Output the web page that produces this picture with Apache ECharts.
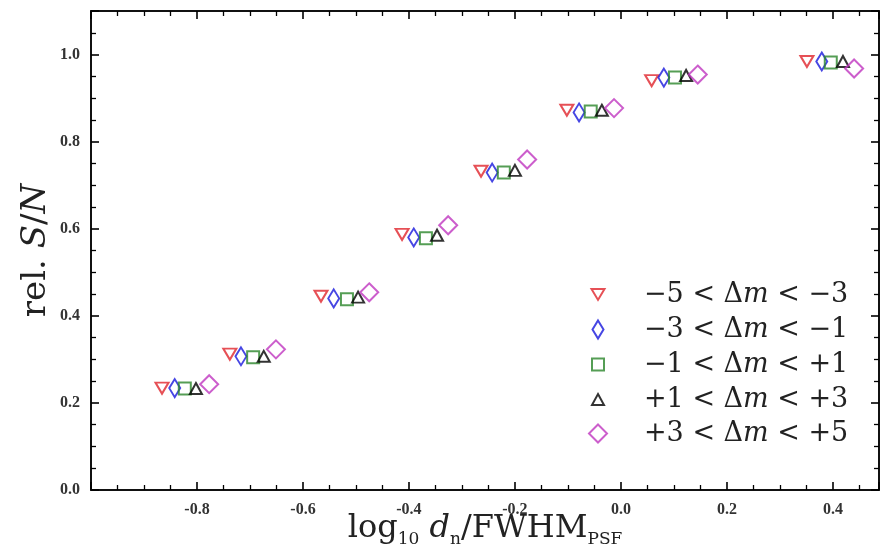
<!DOCTYPE html>
<html><head><meta charset="utf-8">
<script src="https://cdn.jsdelivr.net/npm/echarts@6/dist/echarts.min.js"></script>
<style>html,body{margin:0;padding:0;background:#fff}#c{width:881px;height:557px}</style>
</head><body><div id="c"></div>
<script>
// Data
const seriesNames = ['−5 < Δm < −3', '−3 < Δm < −1', '−1 < Δm < +1', '+1 < Δm < +3', '+3 < Δm < +5'];
const legendLabels = [
  ['−5 < Δ', ' < −3'],
  ['−3 < Δ', ' < −1'],
  ['−1 < Δ', ' < +1'],
  ['+1 < Δ', ' < +3'],
  ['+3 < Δ', ' < +5']
];
const xRedTri   = [-0.866, -0.738, -0.566, -0.413, -0.264, -0.102, 0.058, 0.351];
const yRedTri   = [0.234, 0.312, 0.445, 0.587, 0.732, 0.872, 0.940, 0.984];
const xBlueDia  = [-0.842, -0.717, -0.542, -0.391, -0.243, -0.079, 0.081, 0.379];
const yBlueDia  = [0.234, 0.307, 0.440, 0.580, 0.729, 0.867, 0.947, 0.984];
const xGreenSq  = [-0.823, -0.694, -0.517, -0.368, -0.221, -0.057, 0.102, 0.396];
const yGreenSq  = [0.233, 0.305, 0.438, 0.578, 0.729, 0.869, 0.947, 0.982];
const xBlackTri = [-0.802, -0.674, -0.496, -0.347, -0.200, -0.036, 0.123, 0.419];
const yBlackTri = [0.233, 0.307, 0.443, 0.585, 0.734, 0.872, 0.952, 0.984];
const xMagDia   = [-0.777, -0.651, -0.475, -0.326, -0.177, -0.013, 0.145, 0.440];
const yMagDia   = [0.243, 0.323, 0.454, 0.608, 0.759, 0.877, 0.954, 0.968];
const xTicks = {min: -1.0, max: 0.487, interval: 0.2};
const yTicks = {min: 0, max: 1.1, interval: 0.2};

const xsAll = [xRedTri, xBlueDia, xGreenSq, xBlackTri, xMagDia];
const ysAll = [yRedTri, yBlueDia, yGreenSq, yBlackTri, yMagDia];
const colors = ['#e0242c', '#1818dc', '#2a862a', '#000000', '#bf36bf'];
const symbols = ['path://M0,0L12,0L6,10Z', 'diamond', 'rect', 'triangle', 'diamond'];
const sizes = [[13, 11], [11, 18], [12, 12], [12, 11], [18, 18]];

const serif = 'DejaVu Serif';
const tickFont = 'Liberation Serif';
const series = seriesNames.map((n, i) => ({
  name: n, type: 'scatter',
  data: xsAll[i].map((x, j) => [x, ysAll[i][j]]),
  symbol: symbols[i], symbolSize: sizes[i],
  itemStyle: {color: 'rgba(0,0,0,0)', borderColor: colors[i], borderWidth: 2},
  z: 2 + i
}));

const legendRows = [298, 333, 368, 403, 437];
const legends = seriesNames.map((n, i) => ({
  data: [{name: n}],
  left: 597 - sizes[i][0] / 2,
  top: legendRows[i] - 17,
  padding: 0,
  itemWidth: sizes[i][0], itemHeight: sizes[i][1],
  selectedMode: false,
  formatter: () => '{n|' + legendLabels[i][0] + '}{i|m}{n|' + legendLabels[i][1] + '}',
  textStyle: {
    padding: [0, 0, 0, 41 - sizes[i][0] / 2],
    rich: {
      n: {fontFamily: serif, fontSize: 27, color: '#222', lineHeight: 34},
      i: {fontFamily: serif, fontSize: 27, fontStyle: 'italic', color: '#222', lineHeight: 34}
    }
  }
}));

const tickLabel = {fontFamily: tickFont, fontWeight: 'bold', fontSize: 16, color: '#333'};
const axisLineStyle = {show: true, onZero: false, lineStyle: {color: '#111', width: 2}};
const tickStyle = {show: true, inside: true, length: 8, lineStyle: {color: '#000', width: 1.6}};
const minorStyle = {show: true, splitNumber: 4, length: 5, lineStyle: {color: '#000', width: 1.3}};

const option = {
  animation: false,
  backgroundColor: '#fff',
  grid: {left: 91, top: 11, right: 2, bottom: 67, containLabel: false, outerBoundsMode: 'none'},
  legend: legends,
  xAxis: [{
    type: 'value', min: xTicks.min, max: xTicks.max, interval: xTicks.interval,
    axisLine: axisLineStyle, axisTick: tickStyle, minorTick: minorStyle,
    splitLine: {show: false},
    axisLabel: Object.assign({showMinLabel: false, showMaxLabel: false, margin: 12,
      formatter: v => v.toFixed(1)}, tickLabel),
    name: '{n|log}{s|10}{n| }{i|d}{s|n}{n|/FWHM}{s|PSF}',
    nameLocation: 'middle', nameGap: 20, nameMoveOverlap: false,
    nameTextStyle: {rich: {
      n: {fontFamily: serif, fontSize: 32, color: '#222', lineHeight: 38, verticalAlign: 'middle'},
      i: {fontFamily: serif, fontSize: 32, fontStyle: 'italic', color: '#222', lineHeight: 38, verticalAlign: 'middle'},
      s: {fontFamily: serif, fontSize: 17, color: '#222', lineHeight: 38, verticalAlign: 'bottom'}
    }}
  }, {
    type: 'value', position: 'top', min: xTicks.min, max: xTicks.max, interval: xTicks.interval,
    axisLine: axisLineStyle, axisTick: tickStyle, minorTick: minorStyle,
    splitLine: {show: false}, axisLabel: {show: false}
  }],
  yAxis: [{
    type: 'value', min: yTicks.min, max: yTicks.max, interval: yTicks.interval,
    axisLine: axisLineStyle, axisTick: tickStyle, minorTick: minorStyle,
    splitLine: {show: false},
    axisLabel: Object.assign({showMaxLabel: false, margin: 11,
      formatter: v => v.toFixed(1)}, tickLabel),
    name: '{n|rel. }{i|S}{n|/}{i|N}',
    nameLocation: 'middle', nameGap: 38, nameMoveOverlap: false,
    nameTextStyle: {rich: {
      n: {fontFamily: serif, fontSize: 34, color: '#222'},
      i: {fontFamily: serif, fontSize: 34, fontStyle: 'italic', color: '#222'}
    }}
  }, {
    type: 'value', position: 'right', min: yTicks.min, max: yTicks.max, interval: yTicks.interval,
    axisLine: axisLineStyle, axisTick: tickStyle, minorTick: minorStyle,
    splitLine: {show: false}, axisLabel: {show: false}
  }],
  series: series
};
echarts.init(document.getElementById('c'), null, {renderer: 'canvas'}).setOption(option);
</script></body></html>
